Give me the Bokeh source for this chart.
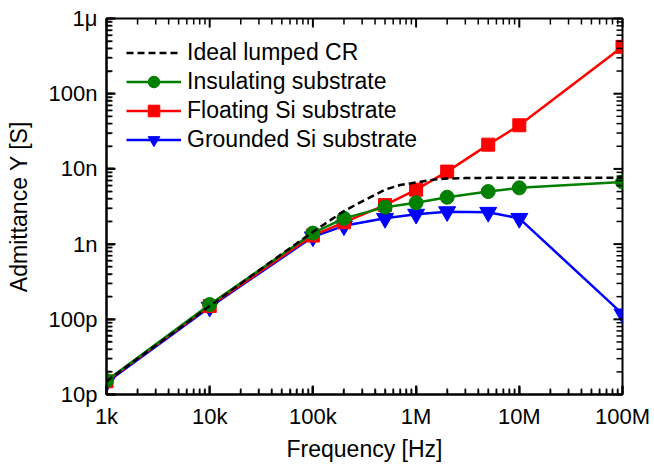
from bokeh.plotting import figure
from bokeh.models import (FixedTicker, Legend, LegendItem, CustomJSTickFormatter, Range1d)
from bokeh.embed import file_html
from bokeh.resources import INLINE

# ---- data ----
freq = [1e3, 1e4, 1e5, 2e5, 5e5, 1e6, 2e6, 5e6, 1e7, 1e8]
insulating = [15.3e-12, 157e-12, 1.40e-9, 2.2e-9, 3.1e-9, 3.55e-9, 4.2e-9, 5.0e-9, 5.6e-9, 6.7e-9]
floating = [15e-12, 150e-12, 1.3e-9, 1.95e-9, 3.3e-9, 5.3e-9, 9.2e-9, 21e-9, 38e-9, 420e-9]
grounded = [14.5e-12, 145e-12, 1.25e-9, 1.75e-9, 2.2e-9, 2.5e-9, 2.7e-9, 2.65e-9, 2.2e-9, 118e-12]

ideal_freq = [1e3, 2e3, 5e3, 1e4, 2e4, 5e4, 1e5, 2e5, 3e5, 5e5, 7e5, 1e6, 1.5e6, 2e6, 3e6, 5e6, 1e7, 1e8]
ideal_y = [15e-12, 30e-12, 75e-12, 150e-12, 300e-12, 740e-12, 1.45e-9, 2.75e-9, 3.7e-9,
           5.3e-9, 6.1e-9, 6.6e-9, 7.2e-9, 7.45e-9, 7.55e-9, 7.6e-9, 7.6e-9, 7.6e-9]

x_ticks = [1e3, 1e4, 1e5, 1e6, 1e7, 1e8]
x_tick_labels = ["1k", "10k", "100k", "1M", "10M", "100M"]
y_ticks = [1e-11, 1e-10, 1e-9, 1e-8, 1e-7, 1e-6]
y_tick_labels = ["10p", "100p", "1n", "10n", "100n", "1\u03bc"]

series_names = ["Ideal lumped CR", "Insulating substrate", "Floating Si substrate", "Grounded Si substrate"]

FONT = "Liberation Sans"

x_minor = [m * d for d in x_ticks[:-1] for m in range(2, 10)]
y_minor = [m * d for d in y_ticks[:-1] for m in range(2, 10)]

W, H = 654, 466
BL, BR, BT, BB = 106, 32, 18, 72

p = figure(width=W, height=H, x_axis_type="log", y_axis_type="log",
           x_range=Range1d(x_ticks[0], x_ticks[-1]), y_range=Range1d(y_ticks[0], y_ticks[-1]),
           output_backend="svg", toolbar_location=None,
           min_border_left=BL, min_border_right=BR, min_border_top=BT, min_border_bottom=BB)
p.grid.visible = False
p.outline_line_color = "black"
p.outline_line_width = 2
p.background_fill_color = "white"
p.border_fill_color = "white"

xfmt = CustomJSTickFormatter(args=dict(labels=x_tick_labels),
                             code="return labels[Math.round(Math.log10(tick)) - 3];")
yfmt = CustomJSTickFormatter(args=dict(labels=y_tick_labels),
                             code="return labels[Math.round(Math.log10(tick)) + 11];")

def style_axis(ax):
    ax.axis_line_width = 2
    ax.axis_line_color = "black"
    ax.major_tick_in = 8
    ax.major_tick_out = 0
    ax.minor_tick_in = 5
    ax.minor_tick_out = 0
    ax.major_tick_line_width = 2
    ax.minor_tick_line_width = 1.5
    ax.major_tick_line_color = "black"
    ax.minor_tick_line_color = "black"
    ax.major_label_text_font = FONT
    ax.major_label_text_color = "black"
    ax.major_label_text_font_size = "22px"
    ax.axis_label_text_font = FONT
    ax.axis_label_text_font_size = "23px"
    ax.axis_label_text_font_style = "normal"
    ax.axis_label_text_color = "black"

xb = p.xaxis[0]
xb.ticker = FixedTicker(ticks=x_ticks, minor_ticks=x_minor)
xb.formatter = xfmt
style_axis(xb)
xb.major_label_standoff = 9
xb.axis_label = "Frequency [Hz]"
xb.axis_label_standoff = 4

yl = p.yaxis[0]
yl.ticker = FixedTicker(ticks=y_ticks, minor_ticks=y_minor)
yl.formatter = yfmt
style_axis(yl)
yl.major_label_standoff = 9
yl.axis_label = "Admittance Y [S]"
yl.axis_label_standoff = 14

# inward tick marks on all four sides: small filled bars (screen-sized) touching the frame edge
x_lo, x_hi = x_ticks[0], x_ticks[-1]
y_lo, y_hi = y_ticks[0], y_ticks[-1]
px_per_dec_x = (W - BL - BR) / 5.0
px_per_dec_y = (H - BT - BB) / 5.0

for xs_list, ys_list, L, lw in ((x_ticks, y_ticks, 9, 2), (x_minor, y_minor, 6, 1.5)):
    half = L / 2.0
    fx = 10 ** (half / px_per_dec_x)
    fy = 10 ** (half / px_per_dec_y)
    n = len(xs_list)
    m = len(ys_list)
    for yy in (y_lo * fy, y_hi / fy):
        p.rect(x=xs_list, y=[yy] * n, width=lw, height=L,
               width_units="screen", height_units="screen",
               fill_color="black", line_color=None, level="overlay")
    for xx in (x_lo * fx, x_hi / fx):
        p.rect(x=[xx] * m, y=ys_list, width=L, height=lw,
               width_units="screen", height_units="screen",
               fill_color="black", line_color=None, level="overlay")

LW = 2.5
bl = p.line(freq, grounded, color="#0000ff", line_width=LW)
bm = p.scatter(freq, grounded, marker="inverted_triangle", size=17, color="#0000ff")
rl = p.line(freq, floating, color="#ff0000", line_width=LW)
rm = p.scatter(freq, floating, marker="square", size=13, color="#ff0000")
gl = p.line(freq, insulating, color="#008000", line_width=LW)
gm = p.scatter(freq, insulating, marker="circle", size=14, color="#008000")
kl = p.line(ideal_freq, ideal_y, color="black", line_width=LW, line_dash="7 4")

legend = Legend(items=[
    LegendItem(label=series_names[0], renderers=[kl]),
    LegendItem(label=series_names[1], renderers=[gl, gm]),
    LegendItem(label=series_names[2], renderers=[rl, rm]),
    LegendItem(label=series_names[3], renderers=[bl, bm]),
], location="top_left")
legend.border_line_alpha = 0
legend.background_fill_alpha = 0
legend.label_text_font = FONT
legend.label_text_font_size = "23px"
legend.label_text_color = "black"
legend.glyph_width = 55
legend.glyph_height = 29
legend.spacing = 0
legend.label_standoff = 6
legend.margin = 10
legend.padding = 10
p.add_layout(legend)

open("out.html", "w").write(file_html(p, INLINE))
